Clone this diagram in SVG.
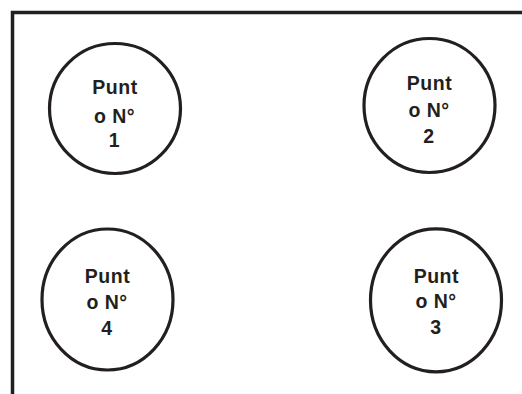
<svg xmlns="http://www.w3.org/2000/svg" width="522" height="394" viewBox="0 0 522 394">
<style>
.frame{fill:none;stroke:#231f20;stroke-width:3.5}
.node ellipse{fill:#fff;stroke:#231f20;stroke-width:3.2}
.node text{font-family:"Liberation Sans",Arial,sans-serif;font-weight:bold;font-size:19.5px;fill:#231f20;text-anchor:middle;letter-spacing:0.5px}
</style>
<rect width="522" height="394" fill="#fff"/>
<polyline class="frame" points="12.5,394 12.5,12.5 522,12.5"/>
<g id="connectors"></g>
<g id="node1" class="node">
<ellipse cx="115" cy="108.5" rx="65.5" ry="65"/>
<text x="115" y="94">Punt</text>
<text x="114.5" y="123">o N°</text>
<text x="114.5" y="147">1</text>
</g>
<g id="node2" class="node">
<ellipse cx="429.5" cy="105.5" rx="65.5" ry="67"/>
<text x="429.5" y="90">Punt</text>
<text x="429" y="116.5">o N°</text>
<text x="429" y="142.5">2</text>
</g>
<g id="node4" class="node">
<ellipse cx="107.5" cy="299.5" rx="65.5" ry="70.5"/>
<text x="107.5" y="282.5">Punt</text>
<text x="107" y="309">o N°</text>
<text x="107" y="334.5">4</text>
</g>
<g id="node3" class="node">
<ellipse cx="436" cy="300.3" rx="65.5" ry="71.5"/>
<text x="436.3" y="282.8">Punt</text>
<text x="436" y="308">o N°</text>
<text x="436" y="333.8">3</text>
</g>
</svg>
